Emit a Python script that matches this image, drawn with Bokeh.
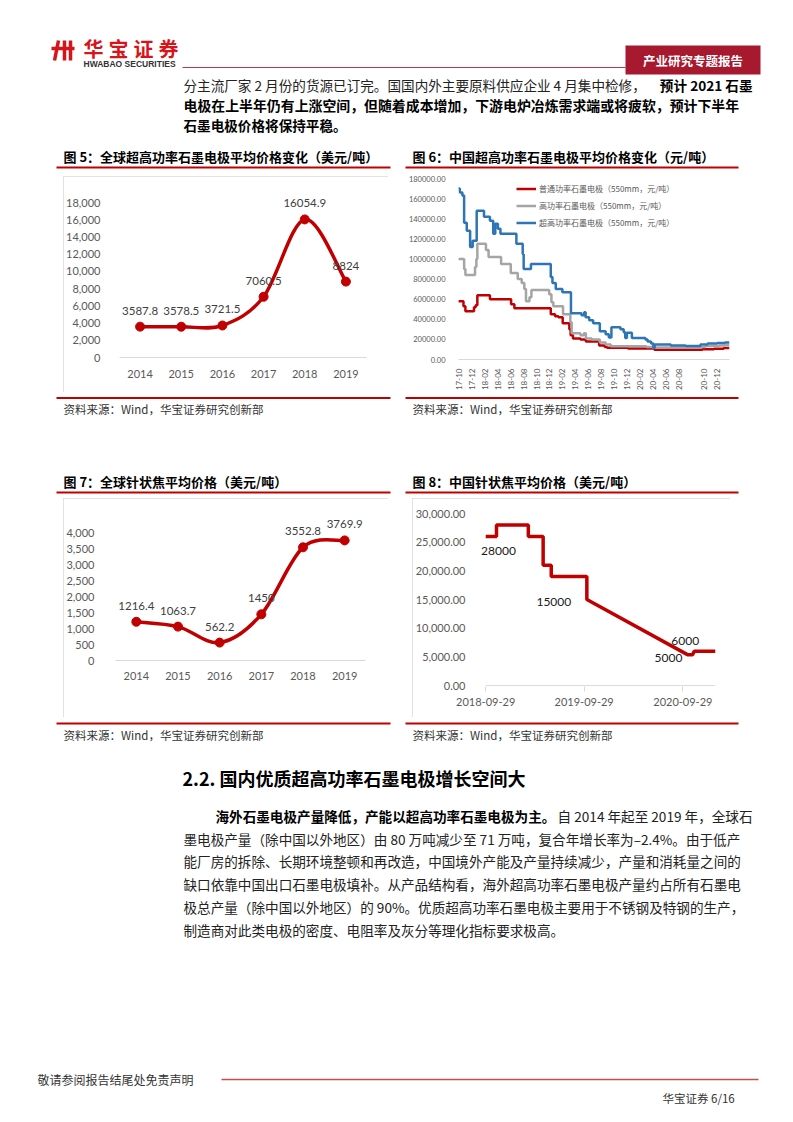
import numpy as np
import pandas as pd
from bokeh.plotting import figure
from bokeh.models import (Range1d, FixedTicker, NumeralTickFormatter, DatetimeTickFormatter,
                          Legend, LegendItem, Spacer, LabelSet, ColumnDataSource)
from bokeh.layouts import column, row
from bokeh.embed import file_html
from bokeh.resources import INLINE
from bokeh.core.properties import value

# ---------------- data ----------------
years = ["2014", "2015", "2016", "2017", "2018", "2019"]
uhp_global_price = [3587.8, 3578.5, 3721.5, 7060.5, 16054.9, 8824]      # fig 5
needle_global_price = [1216.4, 1063.7, 562.2, 1450, 3552.8, 3769.9]     # fig 7

# fig 6 : months after 2017-10 on the chart's axis
fig6_tick_labels = ["17-10", "17-12", "18-02", "18-04", "18-06", "18-08", "18-10", "18-12",
                    "19-02", "19-04", "19-06", "19-08", "19-10", "19-12", "20-02", "20-04",
                    "20-06", "20-08", "20-10", "20-12"]
fig6_tick_months = [0, 2, 4, 6, 8, 10, 12, 14, 16, 18, 20, 22, 24, 26, 28, 30, 32, 34, 38, 40]

rp_month = [-0.15, 0.67, 0.97, 2.3, 2.56, 2.82, 4.77, 8.05, 8.56, 14.2, 14.87, 15.38, 16.05,
            17.08, 17.28, 17.64, 18.8, 19.64, 21.7, 22.56, 22.92, 26.15, 30.26, 37.7, 39.5,
            41.0, 41.9]
rp_price = [58000, 53000, 48000, 52000, 54000, 64000, 60000, 55000, 51000, 45000, 43000, 42000,
            36000, 30000, 24000, 21000, 20000, 18000, 14000, 12500, 11800, 11000, 9800, 10200,
            10800, 11500, 11500]

hp_month = [-0.15, 0.77, 0.97, 2.46, 2.67, 2.82, 4.15, 4.56, 6.5, 8.0, 9.08, 9.7, 10.1, 10.36,
            10.9, 11.2, 13.95, 14.3, 14.6, 16.1, 17.23, 17.44, 18.8, 19.33, 19.64, 20.56, 21.8,
            22.7, 23.5, 29.0, 30.0, 37.2, 38.2, 40.3, 41.2, 41.9]
hp_price = [100000, 90000, 84000, 92000, 100000, 115000, 109000, 102000, 95000, 86000, 80000,
            76000, 70000, 58000, 62000, 69000, 65000, 57000, 53000, 45000, 37000, 26000, 24000,
            26000, 21000, 20000, 17000, 15000, 13300, 12500, 12000, 12500, 13500, 14000, 14500,
            14500]

uhp_month = [-0.15, 0.1, 0.5, 0.77, 1.18, 1.7, 2.1, 2.72, 3.85, 4.77, 5.28, 5.6, 6.0, 6.4,
             8.87, 9.85, 10.0, 11.13, 14.2, 14.46, 14.97, 16.0, 17.33, 18.97, 19.38, 19.6,
             20.15, 20.77, 21.8, 22.7, 23.2, 23.6, 25.0, 25.5, 25.74, 26.0, 26.77, 28.87, 29.2,
             29.74, 30.1, 30.3, 32.8, 35.1, 37.4, 38.5, 40.0, 41.2, 41.9]
uhp_price = [170000, 166000, 163000, 136000, 128000, 112000, 118000, 148000, 142000, 138000,
             125000, 135000, 130000, 125000, 115000, 105000, 90000, 95000, 82000, 76000, 70000,
             67000, 46000, 44000, 47000, 42000, 39000, 36000, 28000, 25000, 22000, 32000, 30000,
             27000, 21500, 26500, 21500, 20000, 18000, 16000, 11500, 15000, 14000, 13500, 15000,
             16000, 16500, 17000, 17000]

series6_names = ["普通功率石墨电极（550mm，元/吨）", "高功率石墨电极（550mm，元/吨）",
                 "超高功率石墨电极（550mm，元/吨）"]

# fig 8
needle_cn_dates = ["2018-09-29", "2018-11-08", "2018-11-08", "2019-03-06", "2019-03-06",
                   "2019-04-30", "2019-04-30", "2019-05-30", "2019-05-30", "2019-10-09",
                   "2019-10-09", "2020-10-16", "2020-11-04", "2020-11-10", "2021-01-28"]
needle_cn_price = [26000, 26000, 28000, 28000, 26000, 26000, 21000, 21000, 19000, 19000,
                   15000, 5400, 5400, 6000, 6000]
needle_cn_label_dates = ["2018-11-08", "2019-10-09", "2020-10-16", "2020-11-10"]
needle_cn_label_values = [28000, 15000, 5400, 6000]
needle_cn_label_text = ["28000", "15000", "5000", "6000"]
fig8_tick_dates = ["2018-09-29", "2019-09-29", "2020-09-29"]

# ---------------- styles ----------------
CJK = "Noto Sans CJK SC"
NUM = "Lato"
RED = "#C00000"
AX = "#595959"
fig8_label_dx = [2, -33, -19, -9]
fig8_label_dy = [-26, -2, -3, 10]   # screen px, up is positive


def page_panel(y_top, y_bottom):
    p = figure(width=777, height=y_bottom - y_top, x_range=Range1d(0, 777),
               y_range=Range1d(y_bottom, y_top), x_axis_location=None, y_axis_location=None,
               toolbar_location=None, output_backend="svg", min_border=0)
    p.grid.visible = False
    p.outline_line_color = None
    return p


def txt(p, x, y, s, size, bold=False, color="#222222", align="left", font=CJK):
    p.text(x=[x], y=[y], text=[s], text_font=value(font), text_font_size=value(f"{size}px"),
           text_font_style="bold" if bold else "normal", text_color=color,
           text_align=align, text_baseline="middle")


def hline(p, x0, x1, y, color=RED, w=2):
    p.segment(x0=[x0], y0=[y], x1=[x1], y1=[y], line_color=color, line_width=w)


def smooth(xs, ys, k=1 / 6):
    d = {key: [] for key in ["x0", "y0", "x1", "y1", "cx0", "cy0", "cx1", "cy1"]}
    n = len(xs)
    for i in range(n - 1):
        a, b = max(i - 1, 0), min(i + 2, n - 1)
        d["x0"].append(xs[i]); d["y0"].append(ys[i])
        d["x1"].append(xs[i + 1]); d["y1"].append(ys[i + 1])
        d["cx0"].append(xs[i] + (xs[i + 1] - xs[a]) * k)
        d["cy0"].append(ys[i] + (ys[i + 1] - ys[a]) * k)
        d["cx1"].append(xs[i + 1] - (xs[b] - xs[i]) * k)
        d["cy1"].append(ys[i + 1] - (ys[b] - ys[i]) * k)
    return d


def style_axes(p, xsize, ysize, ystand, xstand):
    p.grid.visible = False
    p.outline_line_color = None
    p.yaxis.axis_line_color = None
    p.yaxis.major_tick_line_color = None
    p.yaxis.minor_tick_line_color = None
    p.xaxis.axis_line_color = "#d9d9d9"
    p.xaxis.major_tick_line_color = None
    p.xaxis.minor_tick_line_color = None
    for ax, sz, st in ((p.xaxis, xsize, xstand), (p.yaxis, ysize, ystand)):
        ax.major_label_text_font = NUM
        ax.major_label_text_font_size = f"{sz}px"
        ax.major_label_text_color = AX
        ax.major_label_standoff = st


def year_chart(vals, y_top_val, yticks, width, height, bl, br, bt, bb, ystand, xstand):
    p = figure(width=width, height=height, x_range=Range1d(-0.5, 5.5),
               y_range=Range1d(0, y_top_val), output_backend="svg", toolbar_location=None,
               min_border_left=bl, min_border_right=br, min_border_top=bt, min_border_bottom=bb)
    xs = list(range(len(years)))
    p.bezier(line_color=RED, line_width=3.5, **smooth(xs, vals))
    p.scatter(xs, vals, size=9, color=RED)
    p.text(x=xs, y=vals, text=[f"{v:g}" for v in vals], text_font=value(NUM),
           text_font_size=value("11.5px"), text_color="#404040", text_align="center",
           text_baseline="middle", y_offset=-16)
    p.xaxis.ticker = FixedTicker(ticks=xs)
    p.xaxis.major_label_overrides = {i: y for i, y in enumerate(years)}
    p.yaxis.ticker = FixedTicker(ticks=yticks)
    p.yaxis.formatter = NumeralTickFormatter(format="0,0")
    style_axes(p, 11, 11, ystand, xstand)
    p.styles = {"outline": "1px solid #d9d9d9", "outline-offset": "-1px"}
    return p


# ---------------- fig 5 ----------------
p5 = year_chart(uhp_global_price, 20580, list(range(0, 18001, 2000)), 325, 216, 55, 22, 4, 35, 13, 6)

# ---------------- fig 7 ----------------
p7 = year_chart(needle_global_price, 4960, list(range(0, 4001, 500)), 325, 219, 50, 23, 4, 57, 15, 5)

# ---------------- fig 6 ----------------
p6 = figure(width=335, height=226, x_range=Range1d(-0.1, 41.9), y_range=Range1d(0, 180000),
            output_backend="svg", toolbar_location=None, min_border_left=51, min_border_right=11,
            min_border_top=8, min_border_bottom=37)
r1 = p6.step(rp_month, rp_price, mode="after", line_color=RED, line_width=2.5)
r2 = p6.step(hp_month, hp_price, mode="after", line_color="#A5A5A5", line_width=2.5)
r3 = p6.step(uhp_month, uhp_price, mode="after", line_color="#2E75B6", line_width=2.5)
p6.xaxis.ticker = FixedTicker(ticks=fig6_tick_months)
p6.xaxis.major_label_overrides = dict(zip(fig6_tick_months, fig6_tick_labels))
p6.xaxis.major_label_orientation = np.pi / 2
p6.yaxis.ticker = FixedTicker(ticks=list(range(0, 180001, 20000)))
p6.yaxis.formatter = NumeralTickFormatter(format="0.00")
style_axes(p6, 8, 7.5, 7, 3)
leg = Legend(items=[LegendItem(label=series6_names[0], renderers=[r1]),
                    LegendItem(label=series6_names[1], renderers=[r2]),
                    LegendItem(label=series6_names[2], renderers=[r3])],
             location=(58, 128), margin=0, padding=0, spacing=0, border_line_color=None,
             background_fill_alpha=0, glyph_width=20, glyph_height=17, label_height=17,
             label_standoff=3, label_text_font=CJK, label_text_font_size="8px",
             label_text_color=AX)
p6.add_layout(leg)

# ---------------- fig 8 ----------------
d8 = pd.to_datetime(needle_cn_dates)
x8_start, x8_end = pd.Timestamp("2018-09-06"), pd.Timestamp("2021-01-28")
p8 = figure(width=318, height=219, x_axis_type="datetime",
            x_range=Range1d(x8_start, x8_end),
            y_range=Range1d(-150, 30000), output_backend="svg", toolbar_location=None,
            min_border_left=64, min_border_right=15, min_border_top=15, min_border_bottom=31)
# axis baseline starting at the first tick date
p8.segment(x0=[pd.Timestamp(fig8_tick_dates[0])], y0=[0], x1=[x8_end], y1=[0],
           line_color="#d9d9d9", line_width=1)
p8.line(d8, needle_cn_price, line_color=RED, line_width=3.5)
lab_src = ColumnDataSource(dict(x=pd.to_datetime(needle_cn_label_dates), y=needle_cn_label_values,
                                text=needle_cn_label_text, dx=fig8_label_dx, dy=fig8_label_dy))
p8.add_layout(LabelSet(x="x", y="y", text="text", x_offset="dx", y_offset="dy", source=lab_src,
                       text_font=value(NUM), text_font_size=value("12px"), text_color="#1a1a1a",
                       text_align="center", text_baseline="middle"))
p8.xaxis.ticker = FixedTicker(ticks=[pd.Timestamp(t).timestamp() * 1000 for t in fig8_tick_dates])
fmt = "%Y-%m-%d"
p8.xaxis.formatter = DatetimeTickFormatter(microseconds=fmt, milliseconds=fmt, seconds=fmt,
                                           minsec=fmt, minutes=fmt, hourmin=fmt, hours=fmt,
                                           days=fmt, months=fmt, years=fmt)
p8.yaxis.ticker = FixedTicker(ticks=list(range(0, 30001, 5000)))
p8.yaxis.formatter = NumeralTickFormatter(format="0,0.00")
style_axes(p8, 11, 11, 8, 6)
p8.xaxis.axis_line_color = None
p8.xaxis.major_tick_line_color = "#d9d9d9"
p8.xaxis.major_tick_out = 5
p8.xaxis.major_tick_in = 0
p8.styles = {"outline": "1px solid #d9d9d9", "outline-offset": "-1px"}

# ---------------- page panels ----------------
top = page_panel(0, 170)
# logo
top.segment(x0=[58, 64, 70, 51], y0=[40, 40, 40, 48], x1=[54, 64, 70, 74], y1=[60, 60, 60, 48],
            line_color="#D7141A", line_width=3.5)
for i, ch in enumerate("华宝证券"):
    txt(top, 83 + i * 25, 48, ch, 20, bold=True, color="#D7141A")
txt(top, 83, 63, "HWABAO SECURITIES", 8.5, bold=True, color="#333333", font="Liberation Sans")
hline(top, 182, 625, 67, color="#B5394B", w=1)
top.quad(left=[625], right=[760], top=[45], bottom=[74], fill_color="#A6192E", line_color=None)
txt(top, 692.5, 59.5, "产业研究专题报告", 12.5, bold=True, color="#ffffff", align="center")
# paragraph
txt(top, 183, 84, "分主流厂家 2 月份的货源已订完。国国内外主要原料供应企业 4 月集中检修，", 13.6)
txt(top, 752, 84, "预计 2021 石墨", 13.6, bold=True, color="#000000", align="right")
txt(top, 183, 104, "电极在上半年仍有上涨空间，但随着成本增加，下游电炉冶炼需求端或将疲软，预计下半年",
    13.9, bold=True, color="#000000")
txt(top, 183, 124, "石墨电极价格将保持平稳。", 13.6, bold=True, color="#000000")
# titles fig 5 / 6
txt(top, 63, 156, "图 5：全球超高功率石墨电极平均价格变化（美元/吨）", 13, bold=True, color="#000000")
txt(top, 412, 156, "图 6：中国超高功率石墨电极平均价格变化（元/吨）", 13, bold=True, color="#000000")
hline(top, 56, 390, 167)
hline(top, 405, 738, 167)

mid = page_panel(396, 497)
hline(mid, 56, 390, 397.5)
hline(mid, 405, 738, 397.5)
txt(mid, 63, 408, "资料来源：Wind，华宝证券研究创新部", 11.5, color="#333333")
txt(mid, 412, 408, "资料来源：Wind，华宝证券研究创新部", 11.5, color="#333333")
txt(mid, 63, 481, "图 7：全球针状焦平均价格（美元/吨）", 13, bold=True, color="#000000")
txt(mid, 412, 481, "图 8：中国针状焦平均价格（美元/吨）", 13, bold=True, color="#000000")
hline(mid, 56, 390, 492)
hline(mid, 405, 738, 492)

bot = page_panel(720, 1114)
hline(bot, 56, 390, 723)
hline(bot, 405, 738, 723)
txt(bot, 63, 734, "资料来源：Wind，华宝证券研究创新部", 11.5, color="#333333")
txt(bot, 412, 734, "资料来源：Wind，华宝证券研究创新部", 11.5, color="#333333")
txt(bot, 182, 777, "2.2. 国内优质超高功率石墨电极增长空间大", 18, bold=True, color="#000000")
txt(bot, 215, 815, "海外石墨电极产量降低，产能以超高功率石墨电极为主。", 13.6, bold=True, color="#000000")
txt(bot, 752, 815, "自 2014 年起至 2019 年，全球石", 13.6, align="right")
body = ["墨电极产量（除中国以外地区）由 80 万吨减少至 71 万吨，复合年增长率为–2.4%。由于低产",
        "能厂房的拆除、长期环境整顿和再改造，中国境外产能及产量持续减少，产量和消耗量之间的",
        "缺口依靠中国出口石墨电极填补。从产品结构看，海外超高功率石墨电极产量约占所有石墨电",
        "极总产量（除中国以外地区）的 90%。优质超高功率石墨电极主要用于不锈钢及特钢的生产，",
        "制造商对此类电极的密度、电阻率及灰分等理化指标要求极高。"]
for i, line in enumerate(body):
    txt(bot, 183, 838 + i * 22.8, line, 13.6)
# footer
txt(bot, 37, 1079, "敬请参阅报告结尾处免责声明", 12, color="#333333")
hline(bot, 221, 758, 1079, color="#C0504D", w=1.5)
txt(bot, 662, 1097, "华宝证券  6/16", 11.5, color="#333333")

rowB = row(Spacer(width=63, height=226), column(Spacer(width=325, height=6), p5, Spacer(width=325, height=4)),
           Spacer(width=17, height=226), p6)
rowD = row(Spacer(width=63, height=223), column(Spacer(width=325, height=1), p7, Spacer(width=325, height=3)),
           Spacer(width=24, height=223), column(Spacer(width=318, height=1), p8, Spacer(width=318, height=3)))
layout = column(top, rowB, mid, rowD, bot)

open("out.html", "w").write(file_html(layout, INLINE))
